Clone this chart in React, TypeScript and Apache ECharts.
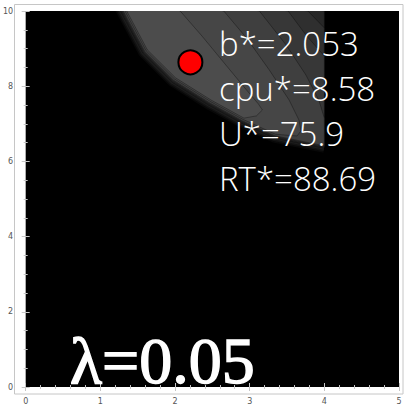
import React, { useEffect, useRef } from "react";
import * as echarts from "echarts";

// ---- data (axis units: x = b, y = cpu) ----
// lower-left "cliff" edge of the feasible region, top -> bottom-right
const cliffX = [1.27, 1.57, 1.96, 2.45, 2.89, 3.33, 4.0];
const cliffY = [10.0, 8.88, 8.11, 7.5, 7.02, 6.62, 6.35];

// upper-right contour line of each level (outermost -> innermost)
const contourLevel0 = [[4.0, 10.0]];
const contourLevel1 = [[3.78, 10.0], [4.0, 9.55]];
const contourLevel2 = [[3.515, 10.0], [3.753, 9.362], [4.0, 8.8]];
const contourLevel3 = [[3.13, 10.0], [3.488, 9.096], [3.753, 8.298], [3.926, 7.633], [4.0, 7.154]];
const contourLevel4 = [[2.653, 10.0], [2.958, 9.282], [3.263, 8.431], [3.528, 7.633], [3.66, 7.101], [3.687, 6.809], [3.634, 6.676]];
const contourLevel5 = [[2.069, 10.0], [2.361, 9.335], [2.692, 8.537], [2.958, 7.899], [3.117, 7.527], [3.17, 7.367], [3.09, 7.21]];
const contourLines = [contourLevel0, contourLevel0, contourLevel0, contourLevel0, contourLevel1, contourLevel2, contourLevel3, contourLevel4, contourLevel5];

const cutX = 4.0;
const optimumB = [2.206];
const optimumCpu = [8.636];
const annotations = ["b*=2.053", "cpu*=8.58", "U*=75.9", "RT*=88.69"];
const lambdaLabel = "λ=0.05";

// ---- styles ----
const levelFill = ["#080808", "#121212", "#1d1d1d", "#272727", "#2f2f2f", "#373737", "#3f3f3f", "#464646", "#4c4c4c"];
const levelInset = [-4.5, -3, -1.5, 0, 0.8, 1.6, 2.4, 4, 5.5];
const frameColor = "#c6c6c6";

export default function App() {
  const ref = useRef<HTMLDivElement>(null);
  useEffect(() => {
    if (!ref.current) return;
    const chart = echarts.init(ref.current, null, { renderer: "svg" });

    const renderItem = (params: any, api: any) => {
      const k = api.value(2);
      const upper = contourLines[k].map((p) => api.coord(p));
      const cutPx = api.coord([cutX, 0])[0];
      const raw = cliffX.map((x, i) => api.coord([x, cliffY[i]]));
      const n = raw.length;
      const inset = levelInset[k];
      const off = raw.map((p, i) => {
        const a = raw[Math.max(0, i - 1)];
        const b = raw[Math.min(n - 1, i + 1)];
        const tx = b[0] - a[0];
        const ty = b[1] - a[1];
        const L = Math.hypot(tx, ty) || 1;
        const nx = ty / L;
        const ny = -tx / L;
        let x = p[0] + inset * nx;
        if (i === n - 1) x = Math.min(x, cutPx);
        return [x, p[1] + inset * ny];
      });
      const t0x = raw[1][0] - raw[0][0];
      const t0y = raw[1][1] - raw[0][1];
      const L0 = Math.hypot(t0x, t0y);
      const ext = [off[0][0] - (t0x / L0) * 30, off[0][1] - (t0y / L0) * 30];
      const endX = upper[upper.length - 1][0];
      const reachesCut = endX >= cutPx - 0.5;
      const cl = [ext, ...off].filter((p) => (reachesCut ? true : p[0] < endX - 3));
      const pts = [...upper, ...cl.reverse()];
      return {
        type: "polygon",
        shape: { points: pts },
        style: {
          fill: levelFill[k],
          stroke: k >= 3 ? "rgba(0,0,0,0.4)" : "none",
          lineWidth: 0.8,
        },
      };
    };

    const axisCommon = {
      type: "value",
      splitLine: { show: false },
      axisLine: { show: false },
      axisTick: { show: true, inside: true, length: 4, lineStyle: { color: frameColor, width: 1 } },
      minorTick: { show: true, length: 2, lineStyle: { color: frameColor, width: 1 } },
    };

    chart.setOption({
      animation: false,
      backgroundColor: "#ffffff",
      grid: { left: 22, top: 11, right: 12, bottom: 24, show: true, backgroundColor: "#000000", borderWidth: 0 },
      xAxis: [
        {
          ...axisCommon,
          min: 0, max: 5, interval: 1, position: "bottom", offset: 7,
          minorTick: { ...axisCommon.minorTick, splitNumber: 5 },
          axisLabel: { color: "#555", fontSize: 8, margin: 3, fontFamily: "DejaVu Sans" },
        },
        {
          ...axisCommon,
          min: 0, max: 5, interval: 1, position: "top", offset: 6.5,
          minorTick: { ...axisCommon.minorTick, splitNumber: 5 },
          axisLabel: { show: false },
        },
      ],
      yAxis: [
        {
          ...axisCommon,
          min: 0, max: 10, interval: 2, position: "left", offset: 7.5,
          minorTick: { ...axisCommon.minorTick, splitNumber: 4 },
          axisLabel: { color: "#555", fontSize: 8, margin: 5, fontFamily: "DejaVu Sans" },
        },
        {
          ...axisCommon,
          min: 0, max: 10, interval: 2, position: "right", offset: 4,
          minorTick: { ...axisCommon.minorTick, splitNumber: 4 },
          axisLabel: { show: false },
        },
      ],
      series: [
        {
          type: "custom",
          coordinateSystem: "cartesian2d",
          xAxisIndex: 0,
          yAxisIndex: 0,
          clip: true,
          renderItem,
          encode: { x: 0, y: 1 },
          data: contourLines.map((_, i) => [cliffX[0], cliffY[0], i]),
          silent: true,
        },
        {
          type: "scatter",
          xAxisIndex: 0,
          yAxisIndex: 0,
          data: optimumB.map((b, i) => [b, optimumCpu[i]]),
          symbolSize: 24,
          itemStyle: { color: "#ff0000", borderColor: "#000000", borderWidth: 2, opacity: 1 },
          z: 5,
        },
      ],
      graphic: [
        {
          type: "rect",
          silent: true,
          shape: { x: 14.5, y: 4.5, width: 388.5, height: 389.5 },
          style: { fill: "none", stroke: frameColor, lineWidth: 1 },
        },
        ...annotations.map((t, i) => ({
          type: "text",
          silent: true,
          z: 100,
          style: {
            text: t,
            x: 219,
            y: 43 + i * 45,
            fill: "#ffffff",
            fontSize: 33,
            fontWeight: 300,
            fontFamily: "'Open Sans', 'Noto Sans', sans-serif",
            verticalAlign: "middle",
            align: "left",
          },
        })),
        {
          type: "text",
          silent: true,
          z: 100,
          style: {
            text: lambdaLabel,
            x: 70,
            y: 360,
            fill: "#ffffff",
            stroke: "#ffffff",
            lineWidth: 1.4,
            fontSize: 66,
            fontFamily: "'Liberation Serif', 'DejaVu Serif', serif",
            verticalAlign: "middle",
            align: "left",
          },
        },
      ],
    });
    return () => chart.dispose();
  }, []);
  return <div ref={ref} style={{ position: "fixed", left: 0, top: 0, width: 411, height: 411 }} />;
}
